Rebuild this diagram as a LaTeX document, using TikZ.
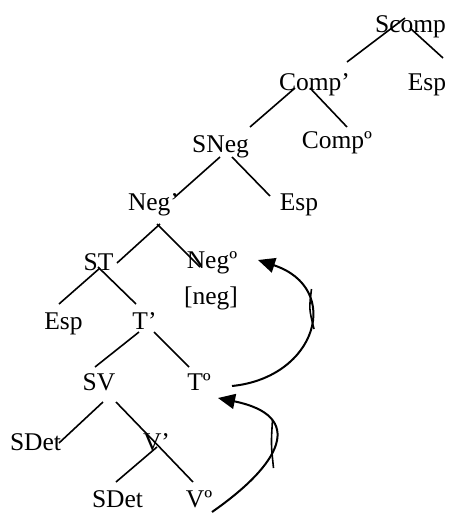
\documentclass[tikz,border=0pt]{standalone}
\usepackage{fontspec}
\setmainfont{Liberation Serif}
\usetikzlibrary{arrows.meta}
\begin{document}
\begin{tikzpicture}[x=1pt,y=-1pt,
  lbl/.style={anchor=base,inner sep=0pt,font=\fontsize{25.5}{30}\selectfont},
  br/.style={line width=1.6pt},
  mv/.style={line width=2pt,-{Triangle[length=17pt,width=15pt]}}]
\useasboundingbox (0,0) rectangle (449,514);
\node[lbl] (Scomp) at (410.5,32) {Scomp};
\node[lbl] (Compb) at (314.5,90) {Comp’};
\node[lbl] (EspA) at (427,90) {Esp};
\node[lbl] (SNeg) at (220.5,152) {SNeg};
\node[lbl] (Comp0) at (337,148) {Compº};
\node[lbl] (Negb) at (153.5,210) {Neg’};
\node[lbl] (EspB) at (299,210) {Esp};
\node[lbl] (ST) at (98.5,270) {ST};
\node[lbl] (Neg0) at (212,268) {Negº};
\node[lbl] (negf) at (211,304) {[neg]};
\node[lbl] (EspC) at (63.5,329) {Esp};
\node[lbl] (Tb) at (144.5,329) {T’};
\node[lbl] (SV) at (99,390) {SV};
\node[lbl] (T0) at (199,390) {Tº};
\node[lbl] (SDetA) at (35.5,450) {SDet};
\node[lbl] (Vb) at (156.5,450) {V’};
\node[lbl] (SDetB) at (117.5,507) {SDet};
\node[lbl] (V0) at (199,507) {Vº};
% branches
\draw[br] ([shift={(-5.5,-14)}]Scomp.base) -- ([shift={(32.5,-28)}]Compb.base);
\draw[br] ([shift={(-0.5,-4)}]Scomp.base) -- ([shift={(16,-32)}]EspA.base);
\draw[br] ([shift={(-19.5,-2)}]Compb.base) -- ([shift={(29.5,-25)}]SNeg.base);
\draw[br] ([shift={(-4.5,-2)}]Compb.base) -- ([shift={(10,-21)}]Comp0.base);
\draw[br] ([shift={(-0.5,5)}]SNeg.base) -- ([shift={(21.5,-13)}]Negb.base);
\draw[br] ([shift={(11.5,5)}]SNeg.base) -- ([shift={(-29,-14)}]EspB.base);
\draw[br] ([shift={(6.5,14)}]Negb.base) -- ([shift={(18.5,-7)}]ST.base);
\draw[br] ([shift={(3.5,14)}]Negb.base) -- ([shift={(-12,-1)}]Neg0.base);
\draw[br] ([shift={(1.5,-2)}]ST.base) -- ([shift={(-4.5,-25)}]EspC.base);
\draw[br] ([shift={(-0.5,-3)}]ST.base) -- ([shift={(-8.5,-25)}]Tb.base);
\draw[br] ([shift={(-5.5,3)}]Tb.base) -- ([shift={(-4,-23)}]SV.base);
\draw[br] ([shift={(9.5,3)}]Tb.base) -- ([shift={(-10,-23)}]T0.base);
\draw[br] ([shift={(4,12)}]SV.base) -- ([shift={(23.5,-7)}]SDetA.base);
\draw[br] ([shift={(17,12)}]SV.base) -- ([shift={(1,-5)}]Vb.base) -- ([shift={(-6,-25)}]V0.base);
\draw[br] ([shift={(0.5,-3)}]Vb.base) -- ([shift={(-1.5,-25)}]SDetB.base);
% movement
\draw[mv] ([shift={(33,-4)}]T0.base) .. controls ([shift={(118,-12.5)}]T0.base) and ([shift={(131,20)}]Neg0.base) .. ([shift={(46,-8)}]Neg0.base);
\draw[mv] ([shift={(13,5)}]V0.base) .. controls ([shift={(82.7,-43.5)}]V0.base) and ([shift={(107,26)}]T0.base) .. ([shift={(19,8)}]T0.base);
\draw[br] (311.5,289) .. controls (309,309) .. (314,329);
\draw[br] (272.5,420) .. controls (271,444) .. (273.5,468);
\end{tikzpicture}
\end{document}
